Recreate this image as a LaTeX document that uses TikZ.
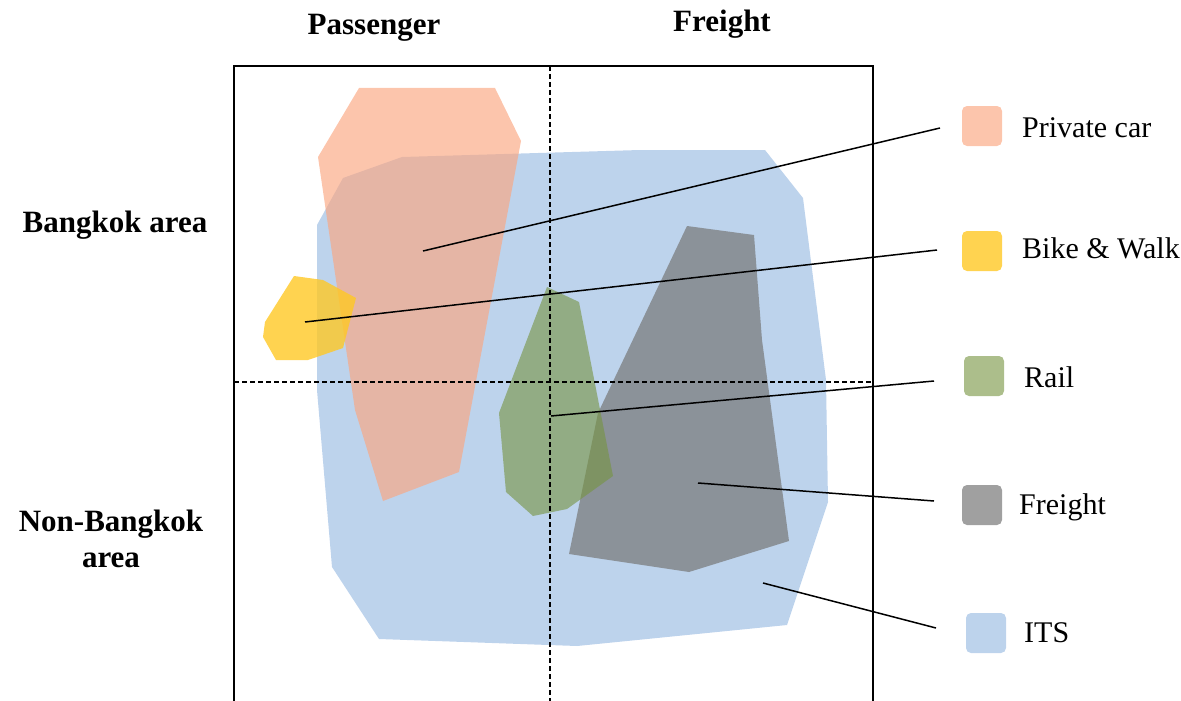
\documentclass[tikz,border=0pt]{standalone}
\usepackage{fontspec}
\setmainfont{Liberation Serif}
\usetikzlibrary{positioning, calc}
\definecolor{itsblue}{RGB}{189,211,236}
\definecolor{carsalmon}{RGB}{251,166,128}
\definecolor{bikeyellow}{RGB}{255,200,36}
\definecolor{railgreen}{RGB}{119,148,66}
\definecolor{freightgrey}{RGB}{119,119,119}
\tikzset{
        my-its/.style={fill=itsblue},
        my-car/.style={fill=carsalmon, fill opacity=.65},
        my-bike/.style={fill=bikeyellow, fill opacity=.8},
        my-rail/.style={fill=railgreen, fill opacity=.61},
        my-freight/.style={fill=freightgrey, fill opacity=.7},
        my-key/.style={minimum size=40pt, inner sep=0pt, rounded corners=5pt},
        my-label/.style={font=\fontsize{30}{36}\selectfont, anchor=base west, inner sep=0pt},
        my-head/.style={font=\fontsize{31}{36}\selectfont\bfseries, inner sep=0pt},
        my-leader/.style={line width=1.5pt},
        my-grid/.style={line width=1.3pt, dash pattern=on 5pt off 3pt},
}
\begin{document}
\begin{tikzpicture}[x=1pt, y=-1pt]
        \useasboundingbox (0,0) rectangle (1181,701);

        %REGIONS (drawn back to front)
        \fill [my-its]     (317,225) -- (343,178) -- (402,157) -- (640,150) -- (765,150) -- (803,198) -- (826,380)
                           -- (828,502) -- (787,625) -- (577,646) -- (379,639) -- (332,567) -- (317,390) -- cycle;
        \fill [my-car]     (359,88) -- (495,88) -- (521,141) -- (459,472) -- (383,501) -- (355,410) -- (318,157) -- cycle;
        \fill [my-bike]    (294,276) -- (323,280) -- (356,298) -- (343,348) -- (308,360) -- (276,360) -- (263,337) -- (265,322) -- cycle;
        \fill [my-freight] (687,226) -- (754,235) -- (762,340) -- (789,541) -- (689,572) -- (569,554) -- (598,413) -- cycle;
        \fill [my-rail]    (547,287) -- (579,302) -- (613,476) -- (567,509) -- (533,516) -- (506,492) -- (499,413) -- cycle;

        % FRAME AND QUADRANTS
        \draw [line width=1.6pt] (234,701) -- (234,66) -- (873,66) -- (873,701);
        \draw [my-grid] (550,66) -- (550,701);
        \draw [my-grid] (234,382) -- (873,382);

        % AXIS TEXT
        \node [my-head, anchor=base]  (PASS)  at (374,35)  {Passenger};
        \node [my-head, anchor=base]  (FRT)   at (722,32)  {Freight};
        \node [my-head, anchor=base]  (BKK)   at (115,232) {Bangkok area};
        \node [my-head, anchor=north, align=center] (NBKK) at (111,510) {Non-Bangkok\\area};

        % LEGEND (keys, then labels beside them)
        \node [my-key, my-car]     (KCAR)   at (982,126) {};
        \node [my-key, my-bike]    (KBIKE)  at (982,251) {};
        \node [my-key, my-rail]    (KRAIL)  at (984,376) {};
        \node [my-key, my-freight] (KFRT)   at (982,505) {};
        \node [my-key, my-its]     (KITS)   at (986,633) {};
        \node [my-label] (LCAR)   at ($(KCAR)+(40,11)$)   {Private car};
        \node [my-label] (LBIKE)  at ($(KBIKE)+(40,7)$)   {Bike \& Walk};
        \node [my-label] (LRAIL)  at ($(KRAIL)+(40,11)$)  {Rail};
        \node [my-label] (LFRT)   at ($(KFRT)+(37,9)$)    {Freight};
        \node [my-label] (LITS)   at ($(KITS)+(38,9)$)    {ITS};

        % LEADER ENDS
        \coordinate (PCAR)  at (423,251);   \coordinate (ECAR)  at (940,128);
        \coordinate (PBIKE) at (305,322);   \coordinate (EBIKE) at (937,250);
        \coordinate (PRAIL) at (551,416);   \coordinate (ERAIL) at (934,381);
        \coordinate (PFRT)  at (698,483);   \coordinate (EFRT)  at (934,501);
        \coordinate (PITS)  at (763,583);   \coordinate (EITS)  at (936,628);

        % CONNECT REGIONS TO LEGEND
        \draw [my-leader] (PCAR)  -- (ECAR);
        \draw [my-leader] (PBIKE) -- (EBIKE);
        \draw [my-leader] (PRAIL) -- (ERAIL);
        \draw [my-leader] (PFRT)  -- (EFRT);
        \draw [my-leader] (PITS)  -- (EITS);

\end{tikzpicture}
\end{document}
